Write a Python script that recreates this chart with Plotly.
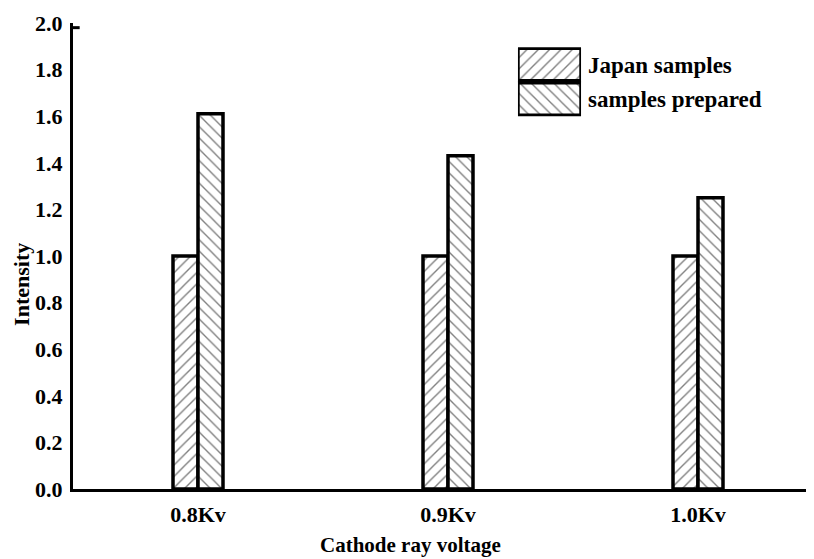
import plotly.graph_objects as go

categories = ["0.8Kv", "0.9Kv", "1.0Kv"]
series_names = ["Japan samples", "samples prepared"]
japan = [1.0, 1.0, 1.0]
prepared = [1.61, 1.43, 1.25]
y_ticks = [0.0, 0.2, 0.4, 0.6, 0.8, 1.0, 1.2, 1.4, 1.6, 1.8, 2.0]
hatches = ["/", "\\"]

FONT = "Liberation Serif"
xpos = list(range(len(categories)))


def marker(shape):
    return dict(color="white", line=dict(color="black", width=3.5),
                pattern=dict(shape=shape, fgcolor="black", bgcolor="white", size=8, solidity=0.17))


fig = go.Figure()
for name, vals, hatch in zip(series_names, [japan, prepared], hatches):
    fig.add_trace(go.Bar(x=xpos, y=vals, name=name, marker=marker(hatch), showlegend=False))

# legend drawn as large hatched swatches on a small inset axis
for name, hatch in zip(series_names, hatches):
    fig.add_trace(go.Bar(y=[name], x=[1], orientation="h", marker=marker(hatch),
                         xaxis="x2", yaxis="y2", showlegend=False, hoverinfo="skip", width=0.94))

tick_font = dict(family=FONT, size=22, color="black", weight="bold")

# the page body adds an 8px margin, so the figure is sized to fit the window
fig.update_layout(
    width=806, height=551,
    margin=dict(l=65, r=0, t=15, b=70),
    plot_bgcolor="white", paper_bgcolor="white",
    barmode="group", bargap=0.8, bargroupgap=0,
    font=dict(family=FONT, size=18, color="black"),
    showlegend=False,
    xaxis=dict(range=[-0.5, 2.464], tickmode="array", tickvals=xpos, ticktext=categories,
               showline=True, linecolor="black", linewidth=3, ticks="", showgrid=False,
               zeroline=False, tickfont=tick_font, ticklabelstandoff=4),
    yaxis=dict(range=[0, 2.0], tickmode="array", tickvals=y_ticks,
               ticktext=[f"{v:.1f}" for v in y_ticks],
               showline=True, linecolor="black", linewidth=3, ticks="", showgrid=False,
               zeroline=False, tickfont=tick_font, ticklabelstandoff=3),
    xaxis2=dict(domain=[0.6005, 0.6856], range=[0, 1], anchor="y2", visible=False,
                fixedrange=True),
    yaxis2=dict(domain=[0.800, 0.948], anchor="x2", side="right", type="category",
                categoryorder="array", categoryarray=series_names[::-1],
                showline=False, ticks="", showgrid=False, zeroline=False,
                tickfont=dict(family=FONT, size=23, color="black", weight="bold"),
                ticklabelstandoff=6, fixedrange=True),
)
# small corner stub at the top of the y axis
fig.add_shape(type="line", xref="paper", yref="paper", x0=0, x1=0.009, y0=0.99, y1=0.99,
              line=dict(color="black", width=3))
fig.add_annotation(text="<b>Intensity</b>", xref="paper", yref="paper", x=-0.0688, y=0.438,
                   xanchor="center", yanchor="middle",
                   textangle=-90, showarrow=False, font=dict(family=FONT, size=22, color="black"))
fig.add_annotation(text="<b>Cathode ray voltage</b>", xref="paper", yref="paper", x=0.455, y=-0.12,
                   xanchor="center", yanchor="middle", showarrow=False,
                   font=dict(family=FONT, size=21, color="black"))

fig.write_html("out.html")
